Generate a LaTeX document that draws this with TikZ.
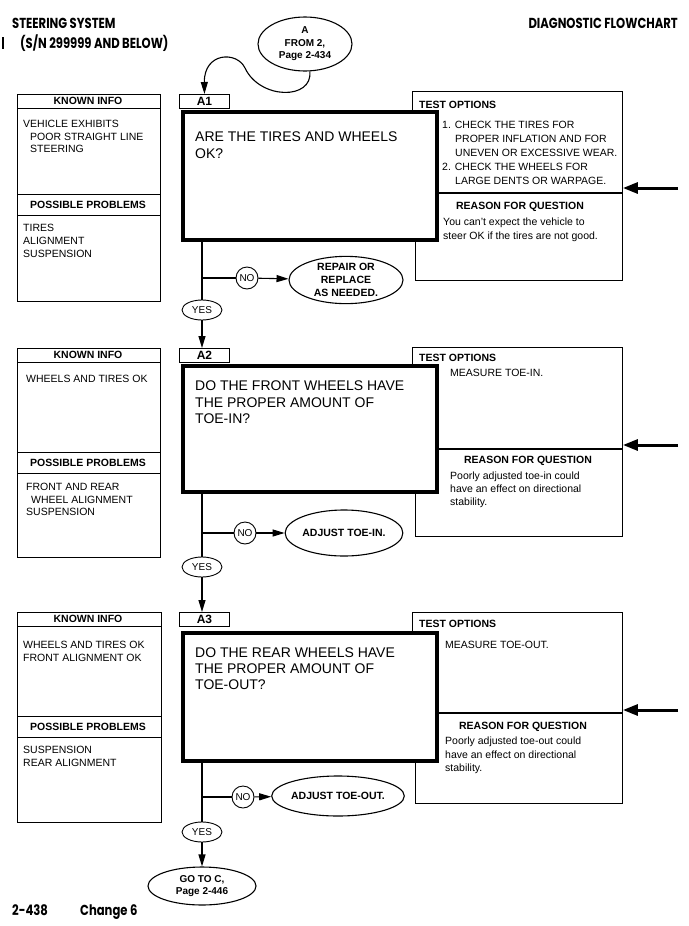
\documentclass[tikz,border=0pt]{standalone}
\usepackage{fontspec}
\setmainfont{Liberation Sans}
\newfontfamily\headfont[FakeStretch=0.8]{Poppins}
\usetikzlibrary{shapes.geometric,arrows.meta}
\begin{document}
\begin{tikzpicture}[x=1pt,y=-1pt,
  box/.style={draw,line width=0.9pt,inner sep=0,anchor=north west},
  qbox/.style={draw,line width=4pt,fill=white,inner sep=0,anchor=north west},
  tag/.style={draw,line width=0.9pt,fill=white,inner sep=0,minimum width=50pt,minimum height=14pt,anchor=north west,font=\bfseries\fontsize{12}{12}\selectfont},
  qtxt/.style={inner sep=0,anchor=north west,align=left,font=\fontsize{14}{16.5}\selectfont},
  txt/.style={inner sep=0,anchor=north west,align=left,font=\fontsize{10.5}{13}\selectfont},
  head/.style={inner sep=0,font=\bfseries\fontsize{10.5}{12}\selectfont},
  title/.style={inner sep=0,anchor=base west,font=\headfont\bfseries\fontsize{14.5}{15}\selectfont},
  oval/.style={ellipse,draw,line width=1.1pt,inner sep=0,align=center,font=\bfseries\fontsize{10.5}{13}\selectfont},
  yesoval/.style={ellipse,draw,line width=0.9pt,inner sep=0,minimum width=40pt,minimum height=20pt,font=\fontsize{10}{10}\selectfont},
  nocirc/.style={circle,draw,line width=0.9pt,inner sep=0,minimum size=22pt,font=\fontsize{10}{10}\selectfont},
  flow/.style={line width=1.1pt},
  arr/.style={line width=1.1pt,-{Triangle[length=12pt,width=7pt]}},
  bigarr/.style={line width=3pt,-{Triangle[length=15pt,width=11pt]}}]
\fill[white] (0,0) rectangle (688,926);
\node[title] (ttl) at (12,28) {STEERING SYSTEM};
\node[title] (sn) at (20,48) {(S/N 299999 AND BELOW)};
\draw[line width=1.5pt] (3,37) -- (3,49);
\node[title,anchor=base east] (dfc) at (678,28) {DIAGNOSTIC FLOWCHART};
\node[title] (pg) at (12,915) {2-438};
\node[title] (chg) at (80,915) {Change 6};

% A1
\draw[line width=0.9pt] (17,94) rectangle (160,301);
\draw[line width=0.9pt] (17,108) -- (160,108) (17,194) -- (160,194) (17,215) -- (160,215);
\node[head] (k1) at (88,101) {KNOWN INFO};
\node[txt,font=\fontsize{10.5}{12.6}\selectfont] (k1t) at (23,120) {VEHICLE EXHIBITS\\\hspace*{7pt}POOR STRAIGHT LINE\\\hspace*{7pt}STEERING};
\node[head] (p1) at (88,205) {POSSIBLE PROBLEMS};
\node[txt] (p1t) at (23,224) {TIRES\\ALIGNMENT\\SUSPENSION};
\node[box,minimum width=210pt,minimum height=101pt] (t1) at (412,91) {};
\node[box,minimum width=207pt,minimum height=88pt] (r1) at (415,192) {};
\draw[line width=2.5pt] (t1.south west) -- (t1.south east);
\node[head,anchor=west] (t1h) at (419,105) {TEST OPTIONS};
\node[txt,font=\fontsize{10.5}{14}\selectfont] (t1t) at (442,121) {1. CHECK THE TIRES FOR\\\hspace*{13pt}PROPER INFLATION AND FOR\\\hspace*{13pt}UNEVEN OR EXCESSIVE WEAR.\\2. CHECK THE WHEELS FOR\\\hspace*{13pt}LARGE DENTS OR WARPAGE.};
\node[head] (r1h) at (520,207) {REASON FOR QUESTION};
\node[txt,font=\fontsize{10.5}{14}\selectfont] (r1t) at (443,218) {You can't expect the vehicle to\\steer OK if the tires are not good.};
\node[qbox,minimum width=254pt,minimum height=128pt] (q1) at (181,110) {};
\node[qtxt] (q1t) at (195,132) {ARE THE TIRES AND WHEELS\\OK?};
\node[tag] (a1) at (179,94) {A1};
\coordinate (in1) at (678,188);
\draw[bigarr] (in1) -- (in1 -| t1.east);
\node[oval,minimum width=94pt,minimum height=54pt,font=\bfseries\fontsize{10}{12.5}\selectfont] (from) at (305,44) {A\\FROM 2,\\Page 2-434};
\draw[arr] (from.-80) .. controls (313,100) and (260,100) .. (245,68) .. controls (237,51) and (204,52) .. (a1.north);
\node[nocirc] (no1) at (247,278) {NO};
\node[oval,minimum width=114pt,minimum height=44pt] (fix1) at (346,280) {REPAIR OR\\REPLACE\\AS NEEDED.};
\node[yesoval] (yes1) at (202,310) {YES};
\draw[flow] (q1.south -| yes1) -- (yes1);
\draw[flow] (yes1 |- no1) -- (no1);
\draw[arr] (no1) -- (fix1);

% A2
\draw[line width=0.9pt] (17,348) rectangle (160,557);
\draw[line width=0.9pt] (17,362) -- (160,362) (17,452) -- (160,452) (17,473) -- (160,473);
\node[head] (k2) at (88,355) {KNOWN INFO};
\node[txt] (k2t) at (26,375) {WHEELS AND TIRES OK};
\node[head] (p2) at (88,463) {POSSIBLE PROBLEMS};
\node[txt,font=\fontsize{10.5}{12.6}\selectfont] (p2t) at (26,483) {FRONT AND REAR\\\hspace*{5pt}WHEEL ALIGNMENT\\SUSPENSION};
\node[box,minimum width=210pt,minimum height=101pt] (t2) at (412,347) {};
\node[box,minimum width=207pt,minimum height=88pt] (r2) at (415,448) {};
\draw[line width=2.5pt] (t2.south west) -- (t2.south east);
\node[head,anchor=west] (t2h) at (419,358) {TEST OPTIONS};
\node[txt] (t2t) at (450,369) {MEASURE TOE-IN.};
\node[head] (r2h) at (528,461) {REASON FOR QUESTION};
\node[txt] (r2t) at (450,472) {Poorly adjusted toe-in could\\have an effect on directional\\stability.};
\node[qbox,minimum width=254pt,minimum height=126pt] (q2) at (181,364) {};
\node[qtxt] (q2t) at (195,381) {DO THE FRONT WHEELS HAVE\\THE PROPER AMOUNT OF\\TOE-IN?};
\node[tag] (a2) at (179,348) {A2};
\coordinate (in2) at (678,445);
\draw[bigarr] (in2) -- (in2 -| t2.east);
\draw[arr] (yes1) -- (a2.north -| yes1);
\node[nocirc] (no2) at (245,533) {NO};
\node[oval,minimum width=112pt,minimum height=46pt] (fix2) at (344,533) {ADJUST TOE-IN.};
\node[yesoval] (yes2) at (202,567) {YES};
\draw[flow] (q2.south -| yes2) -- (yes2);
\draw[flow] (yes2 |- no2) -- (no2);
\draw[arr] (no2) -- (fix2);

% A3
\draw[line width=0.9pt] (17,612) rectangle (161,822);
\draw[line width=0.9pt] (17,626) -- (161,626) (17,716) -- (161,716) (17,737) -- (161,737);
\node[head] (k3) at (88,619) {KNOWN INFO};
\node[txt] (k3t) at (23,641) {WHEELS AND TIRES OK\\FRONT ALIGNMENT OK};
\node[head] (p3) at (88,727) {POSSIBLE PROBLEMS};
\node[txt] (p3t) at (23,746) {SUSPENSION\\REAR ALIGNMENT};
\node[box,minimum width=210pt,minimum height=100pt] (t3) at (412,612) {};
\node[box,minimum width=207pt,minimum height=91pt] (r3) at (415,712) {};
\draw[line width=2.5pt] (t3.south west) -- (t3.south east);
\node[head,anchor=west] (t3h) at (419,624) {TEST OPTIONS};
\node[txt] (t3t) at (445,641) {MEASURE TOE-OUT.};
\node[head] (r3h) at (523,727) {REASON FOR QUESTION};
\node[txt,font=\fontsize{10.5}{13.5}\selectfont] (r3t) at (445,737) {Poorly adjusted toe-out could\\have an effect on directional\\stability.};
\node[qbox,minimum width=254pt,minimum height=128pt] (q3) at (181,631) {};
\node[qtxt,font=\fontsize{14}{16}\selectfont] (q3t) at (195,648) {DO THE REAR WHEELS HAVE\\THE PROPER AMOUNT OF\\TOE-OUT?};
\node[tag] (a3) at (179,612) {A3};
\coordinate (in3) at (678,710);
\draw[bigarr] (in3) -- (in3 -| t3.east);
\draw[arr] (yes2) -- (a3.north -| yes2);
\node[nocirc] (no3) at (243,797) {NO};
\node[oval,minimum width=106pt,minimum height=40pt] (fix3) at (338,796) {ADJUST TOE-OUT.};
\node[yesoval] (yes3) at (202,832) {YES};
\draw[flow] (q3.south -| yes3) -- (yes3);
\draw[flow] (yes3 |- no3) -- (no3);
\draw[arr] (no3) -- (fix3);
\node[oval,minimum width=108pt,minimum height=38pt,font=\bfseries\fontsize{10}{12.5}\selectfont] (goto) at (202,886) {GO TO C,\\Page 2-446};
\draw[arr] (yes3) -- (goto);
\end{tikzpicture}
\end{document}
